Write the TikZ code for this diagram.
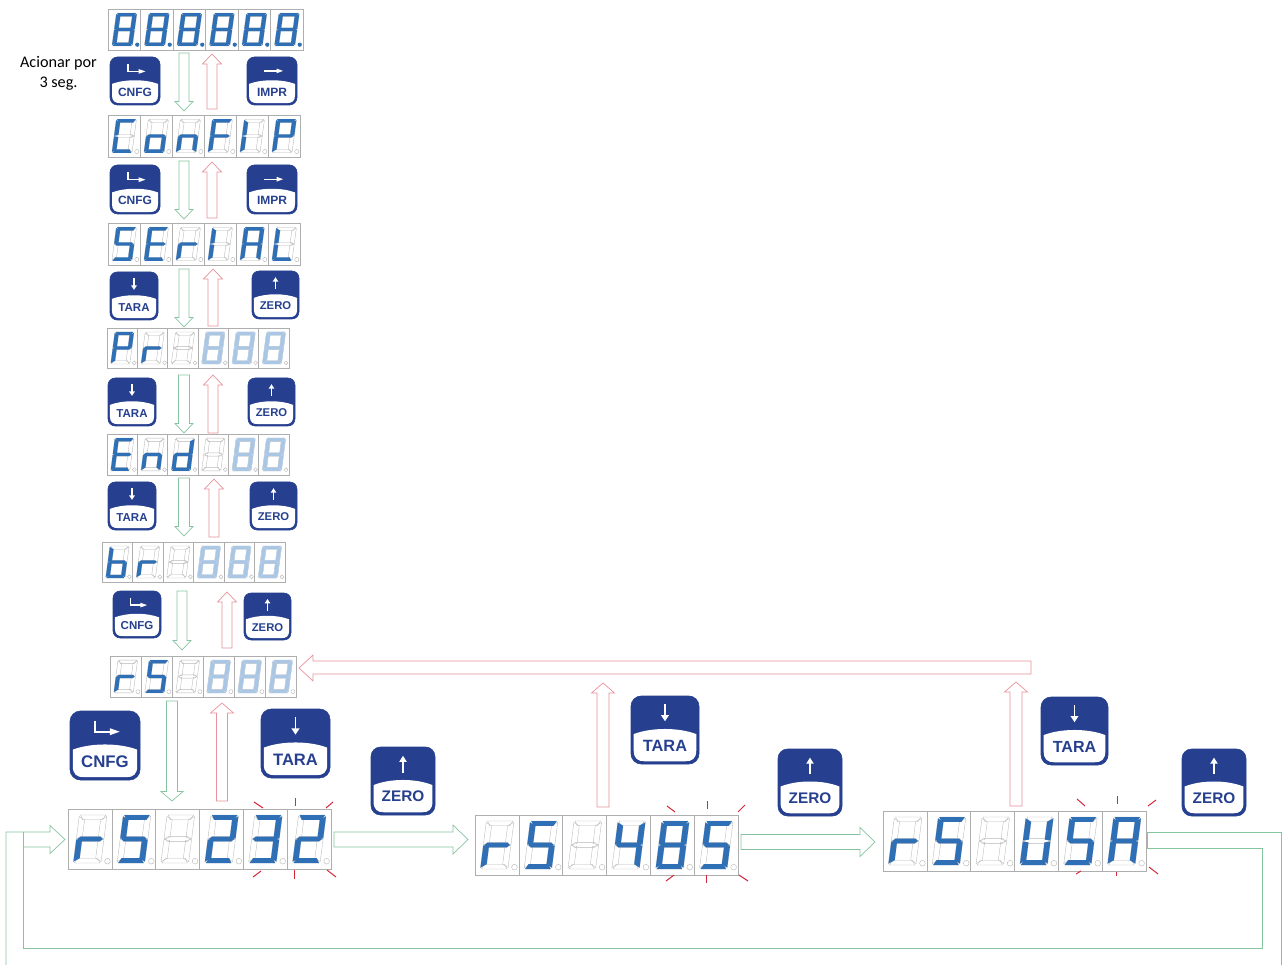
\documentclass[tikz,border=0pt]{standalone}
\usepackage{fontspec}
\setmainfont{Liberation Sans}
\newfontfamily\calib{Carlito}
\definecolor{navy}{HTML}{26408F}
\definecolor{litblue}{HTML}{2F6FB5}
\definecolor{paleblue}{HTML}{A9C6E4}
\definecolor{gridgray}{HTML}{AEAEAE}
\definecolor{offgray}{HTML}{B8B8B8}
\definecolor{arrgreen}{HTML}{86C4A0}
\definecolor{arrred}{HTML}{E8939B}
\definecolor{spark}{HTML}{D8283C}
\tikzset{
  seglit/.style={fill=litblue},
  segpale/.style={fill=paleblue,draw=paleblue!70!white,line width=.2pt},
  segoff/.style={draw=offgray,line width=.35pt},
  dpoff/.style={draw=offgray,line width=.4pt,fill=white},
  dplit/.style={fill=litblue},
  dispbox/.style={draw=gridgray,line width=.6pt,anchor=north west,inner sep=0pt,outer sep=0pt},
  keybox/.style={draw=navy,fill=navy,line width=.6pt,anchor=north west,inner sep=0pt,outer sep=0pt,rounded corners=5pt},
  grn/.style={draw=arrgreen,line width=.7pt,line join=miter},
  rd/.style={draw=arrred,line width=.7pt,line join=miter},
  sparkline/.style={draw=spark,line width=1pt},
  keylabel/.style={text=navy,inner sep=0pt,font=\bfseries}
}
% segments in unit coordinates (blocky, little taper)
\expandafter\def\csname ssa\endcsname#1{\path[#1] (.04,0)--(.96,0)--(.86,.1)--(.14,.1)--cycle;}
\expandafter\def\csname ssb\endcsname#1{\path[#1] (1,.03)--(1,.49)--(.79,.47)--(.79,.1)--cycle;}
\expandafter\def\csname ssc\endcsname#1{\path[#1] (1,.51)--(1,.97)--(.79,.9)--(.79,.53)--cycle;}
\expandafter\def\csname ssd\endcsname#1{\path[#1] (.04,1)--(.14,.9)--(.86,.9)--(.96,1)--cycle;}
\expandafter\def\csname sse\endcsname#1{\path[#1] (0,.51)--(.21,.53)--(.21,.9)--(0,.97)--cycle;}
\expandafter\def\csname ssf\endcsname#1{\path[#1] (0,.03)--(.21,.1)--(.21,.47)--(0,.49)--cycle;}
\expandafter\def\csname ssg\endcsname#1{\path[#1] (.04,.5)--(.14,.45)--(.86,.45)--(.96,.5)--(.86,.55)--(.14,.55)--cycle;}
% characters
\def\dgX{}
\def\dgC{a,d,e,f}
\def\dgo{c,d,e,g}
\def\dgn{c,e,g}
\def\dgF{a,e,f,g}
\def\dgI{e,f}
\def\dgP{a,b,e,f,g}
\def\dgS{a,c,d,f,g}
\def\dgE{a,d,e,f,g}
\def\dgr{e,g}
\def\dgA{a,b,c,e,f,g}
\def\dgL{d,e,f}
\def\dgd{b,c,d,e,g}
\def\dgb{c,d,e,f,g}
\def\dgU{b,c,d,e,f}
\expandafter\def\csname dg2\endcsname{a,b,d,e,g}
\expandafter\def\csname dg3\endcsname{a,b,c,d,g}
\expandafter\def\csname dg4\endcsname{b,c,f,g}
\expandafter\def\csname dg5\endcsname{a,c,d,f,g}
\expandafter\def\csname dg8\endcsname{a,b,c,d,e,f,g}
% \disp{name}{x0}{y0}{x1}{y1}{dp style}{char/style,...}
\newcommand{\disp}[7]{%
  \pgfmathsetmacro\dW{(#4-#2)/6}%
  \pgfmathsetmacro\dH{#5-#3}%
  \pgfmathsetmacro\dFull{#4-#2}%
  \node[dispbox,minimum width=\dFull pt,minimum height=\dH pt] (#1) at (#2,#3) {};
  \foreach \c/\st [count=\i from 0] in {#7}{%
    \pgfmathsetmacro\cx{#2+\i*\dW}%
    \ifnum\i>0 \draw[draw=gridgray,line width=.5pt] (\cx,#3) -- (\cx,#5);\fi
    \pgfmathsetmacro\ox{\cx+.26*\dW}%
    \pgfmathsetmacro\oy{#3+.1*\dH}%
    \pgfmathsetmacro\ux{.63*\dW}%
    \pgfmathsetmacro\vx{-.14*\dW}%
    \pgfmathsetmacro\vy{-.8*\dH}%
    \begin{scope}[shift={(\ox,\oy)},x={(\ux pt,0pt)},y={(\vx pt,\vy pt)}]
      \foreach \sg in {a,b,c,d,e,f,g}{\csname ss\sg\endcsname{segoff}}
      \edef\lst{\csname dg\c\endcsname}%
      \ifx\lst\empty\else
        \foreach \sg in \lst {\csname ss\sg\endcsname{\st}}
      \fi
    \end{scope}
    \pgfmathsetmacro\dx{\cx+.9*\dW}%
    \pgfmathsetmacro\dy{#3+.87*\dH}%
    \pgfmathsetmacro\dr{.065*\dW}%
    \path[#6] (\dx,\dy) circle[radius=\dr pt];
  }%
}
% icons in unit coordinates
\def\iconL{\draw[white,line width=\iw pt] (.36,.14)--(.36,.3)--(.58,.3);
  \fill[white] (.57,.25)--(.71,.3)--(.57,.35)--cycle;}
\def\iconR{\draw[white,line width=\iw pt] (.34,.29)--(.6,.29);
  \fill[white] (.59,.24)--(.72,.29)--(.59,.34)--cycle;}
\def\iconD{\draw[white,line width=\iw pt] (.5,.12)--(.5,.3);
  \fill[white] (.44,.28)--(.56,.28)--(.5,.37)--cycle;}
\def\iconU{\draw[white,line width=\iw pt] (.5,.2)--(.5,.38);
  \fill[white] (.44,.22)--(.56,.22)--(.5,.13)--cycle;}
% \keybtn{name}{x0}{y0}{x1}{y1}{label}{icon}
\newcommand{\keybtn}[7]{%
  \pgfmathsetmacro\kW{#4-#2}%
  \pgfmathsetmacro\kH{#5-#3}%
  \pgfmathsetmacro\kR{.15*\kW}%
  \pgfmathsetmacro\fs{.24*\kW}%
  \pgfmathsetmacro\iw{.026*\kW}%
  \node[keybox,minimum width=\kW pt,minimum height=\kH pt,rounded corners=\kR pt] (#1) at (#2,#3) {};
  \begin{scope}[shift={(#2,#3)},x={(\kW pt,0pt)},y={(0pt,-\kH pt)}]
    \fill[white] (.04,.56) .. controls (.3,.46) and (.7,.46) .. (.96,.56)
      -- (.96,.8) .. controls (.96,.92) and (.9,.96) .. (.8,.96)
      -- (.2,.96) .. controls (.1,.96) and (.04,.92) .. (.04,.8) -- cycle;
    #7
    \node[keylabel,font=\fontsize{\fs pt}{\fs pt}\selectfont\bfseries] (#1t) at (.5,.73) {#6};
  \end{scope}
}
% block arrows: centre, start, end
\newcommand{\arrdown}[6][grn]{% style, cx, top, tip, shaft half, head half
  \draw[#1] (#2-#5,#3) -- (#2+#5,#3) -- (#2+#5,#4-9.5) -- (#2+#6,#4-9.5) -- (#2,#4) -- (#2-#6,#4-9.5) -- (#2-#5,#4-9.5) -- cycle;}
\newcommand{\arrup}[6][rd]{% style, cx, bottom, tip, shaft half, head half
  \draw[#1] (#2-#5,#3) -- (#2+#5,#3) -- (#2+#5,#4+10) -- (#2+#6,#4+10) -- (#2,#4) -- (#2-#6,#4+10) -- (#2-#5,#4+10) -- cycle;}
\newcommand{\arrright}[3]{% x0, tip, cy
  \draw[grn] (#1,#3-7.5) -- (#2-15,#3-7.5) -- (#2-15,#3-14.5) -- (#2,#3) -- (#2-15,#3+14.5) -- (#2-15,#3+7.5) -- (#1,#3+7.5) -- cycle;}
\begin{document}
\begin{tikzpicture}[x=1pt,y=-1pt]
\useasboundingbox (0,0) rectangle (1283,965);
\fill[white] (0,0) rectangle (1283,965);

% displays
\disp{dA}{108}{9}{303}{50}{dplit}{8/seglit,8/seglit,8/seglit,8/seglit,8/seglit,8/seglit}
\disp{dB}{108}{115}{300}{157}{dpoff}{C/seglit,o/seglit,n/seglit,F/seglit,I/seglit,P/seglit}
\disp{dC}{108}{223}{300}{265}{dpoff}{S/seglit,E/seglit,r/seglit,I/seglit,A/seglit,L/seglit}
\disp{dD}{107}{328}{289}{368}{dpoff}{P/seglit,r/seglit,X/seglit,8/segpale,8/segpale,8/segpale}
\disp{dE}{107}{434}{289}{475}{dpoff}{E/seglit,n/seglit,d/seglit,X/seglit,8/segpale,8/segpale}
\disp{dF}{102}{542}{285}{582}{dpoff}{b/seglit,r/seglit,X/seglit,8/segpale,8/segpale,8/segpale}
\disp{dG}{110}{656}{296}{697}{dpoff}{r/seglit,S/seglit,X/seglit,8/segpale,8/segpale,8/segpale}
\disp{dH}{68}{809}{331}{869}{dpoff}{r/seglit,S/seglit,X/seglit,2/seglit,3/seglit,2/seglit}
\disp{dI}{475}{815}{738}{875}{dpoff}{r/seglit,S/seglit,X/seglit,4/seglit,8/seglit,5/seglit}
\disp{dJ}{883}{811}{1146}{871}{dpoff}{r/seglit,S/seglit,X/seglit,U/seglit,S/seglit,A/seglit}

% keys
\keybtn{k1a}{110}{57}{160}{105}{CNFG}{\iconL}
\keybtn{k1b}{247}{57}{297}{105}{IMPR}{\iconR}
\keybtn{k2a}{110}{165}{160}{214}{CNFG}{\iconL}
\keybtn{k2b}{247}{165}{297}{214}{IMPR}{\iconR}
\keybtn{k3a}{110}{272}{158}{320}{TARA}{\iconD}
\keybtn{k3b}{252}{271}{299}{319}{ZERO}{\iconU}
\keybtn{k4a}{108}{378}{156}{426}{TARA}{\iconD}
\keybtn{k4b}{248}{378}{295}{426}{ZERO}{\iconU}
\keybtn{k5a}{108}{482}{156}{530}{TARA}{\iconD}
\keybtn{k5b}{250}{482}{297}{530}{ZERO}{\iconU}
\keybtn{k6a}{113}{591}{161}{638}{CNFG}{\iconL}
\keybtn{k6b}{244}{593}{291}{640}{ZERO}{\iconU}
\keybtn{k7a}{70}{711}{140}{780}{CNFG}{\iconL}
\keybtn{k7b}{261}{709}{330}{778}{TARA}{\iconD}
\keybtn{k7c}{371}{747}{435}{815}{ZERO}{\iconU}
\keybtn{k8b}{631}{696}{699}{764}{TARA}{\iconD}
\keybtn{k8c}{778}{749}{842}{816}{ZERO}{\iconU}
\keybtn{k9b}{1041}{697}{1108}{765}{TARA}{\iconD}
\keybtn{k9c}{1182}{749}{1246}{816}{ZERO}{\iconU}

% text
\node[align=center,inner sep=0pt,font=\calib\fontsize{16.2}{20}\selectfont] (note) at (58.5,73.5) {Acionar por\\3 seg.};

% vertical arrows
\arrdown{184}{53}{111}{5}{9}
\arrup{212}{109}{54}{5}{9.5}
\arrdown{184}{161}{219}{5}{9}
\arrup{212}{218}{162}{5}{9.5}
\arrdown{184}{269}{327}{5}{9}
\arrup{213}{326}{269}{5}{9.5}
\arrdown{184}{375}{433}{5.5}{9}
\arrup{213}{433}{375}{5}{9.5}
\arrdown{184}{478}{536}{5.5}{9}
\arrup{214}{537}{479}{5}{9.5}
\arrdown{182}{591}{650}{5}{9}
\arrup{227}{648}{592}{5}{9.5}
\arrdown{172}{701}{801}{5.5}{11}
\arrup{222}{801}{703}{5.5}{11.5}
\arrup{603}{807}{683}{6}{11.5}
\arrup{1016}{806}{682}{6}{11.5}

% long red arrow
\draw[rd] (299,668) -- (313,655) -- (313,661) -- (1031,661) -- (1031,674) -- (313,674) -- (313,681) -- cycle;

% horizontal green arrows
\arrright{334}{468}{839.5}
\arrright{741}{875}{842}

% wrap-around loop
\draw[grn] (6,965) -- (6,832) -- (50,832) -- (50,825.5) -- (65,839.5) -- (50,853.5) -- (50,847) -- (23,847);
\draw[grn] (23,832) -- (23,948) -- (1262,948) -- (1262,848) -- (1147,848) -- (1147,832) -- (1281,832) -- (1281,965);

% blink marks
\foreach \a/\b/\c/\d in {254/802/263/808,295/798/295/806,333/802/326/808,253/877/261/871,294/870/294/879,327/870/336/877,
  667/806/675/812,707/801/707/809,745/805/738/812,666/881/674/875,706/875/706/883,739/875/748/881,
  1077/799/1085/806,1117/796/1117/804,1156/800/1148/806,1076/874/1081/871,1116/872/1116/876,1149/867/1158/874}
  {\draw[sparkline] (\a,\b) -- (\c,\d);}
\end{tikzpicture}
\end{document}
